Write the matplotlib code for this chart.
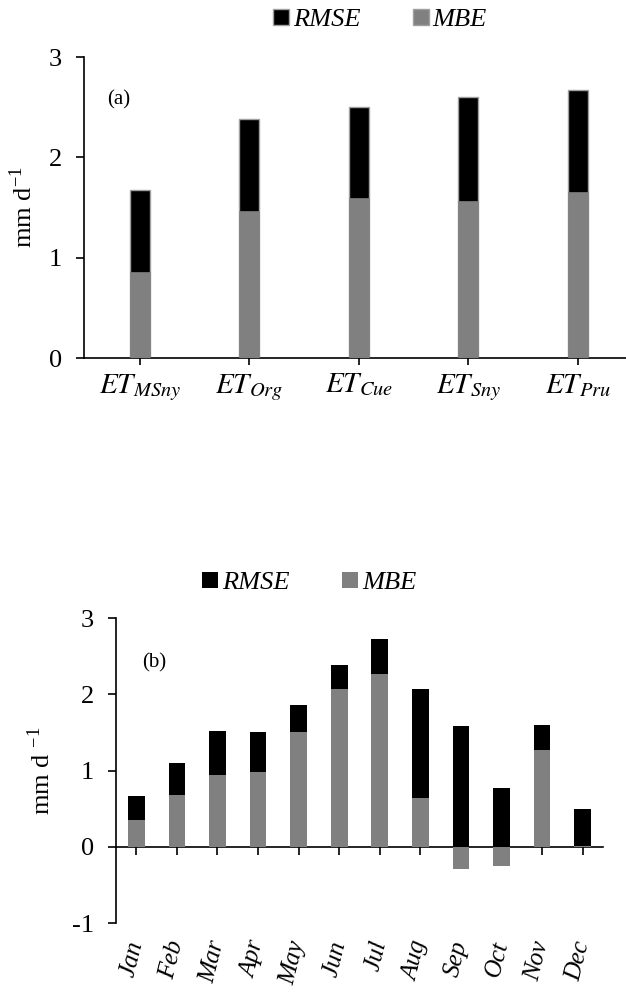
import matplotlib
matplotlib.use('Agg')
import matplotlib.pyplot as plt
from matplotlib.patches import Patch

# Panel (a): error statistics per ET method
methods = ['$ET_{MSny}$', '$ET_{Org}$', '$ET_{Cue}$', '$ET_{Sny}$', '$ET_{Pru}$']
rmse_a = [1.67, 2.38, 2.50, 2.60, 2.67]
mbe_a = [0.86, 1.47, 1.60, 1.57, 1.65]

# Panel (b): monthly error statistics
months = ['Jan', 'Feb', 'Mar', 'Apr', 'May', 'Jun',
          'Jul', 'Aug', 'Sep', 'Oct', 'Nov', 'Dec']
rmse_b = [0.66, 1.10, 1.52, 1.51, 1.86, 2.39, 2.73, 2.07, 1.58, 0.77, 1.60, 0.49]
mbe_b = [0.35, 0.68, 0.94, 0.98, 1.51, 2.07, 2.27, 0.64, -0.29, -0.25, 1.27, 0.01]

plt.rcParams['font.family'] = ['Liberation Serif', 'DejaVu Serif']
plt.rcParams['mathtext.fontset'] = 'stix'
plt.rcParams['axes.unicode_minus'] = False

BLACK = '#000000'
GREY = '#808080'
EDGE = '#a0a0a0'

fig = plt.figure(figsize=(6.26, 9.94), dpi=100)

# ---- panel (a)
ax1 = fig.add_axes([0.134, 0.6398, 0.866, 0.3028])
xa = range(len(methods))
ax1.bar(xa, rmse_a, width=0.18, color=BLACK, edgecolor=EDGE, linewidth=1.0, zorder=2)
ax1.bar(xa, mbe_a, width=0.18, color=GREY, edgecolor=GREY, linewidth=0.5, zorder=3)
ax1.set_xlim(-0.51, 4.44)
ax1.set_ylim(0, 3)
ax1.set_yticks([0, 1, 2, 3])
ax1.set_xticks(list(xa))
ax1.set_xticklabels(methods, fontsize=21)
ax1.tick_params(axis='y', labelsize=19, length=6, width=1.2, pad=10)
ax1.tick_params(axis='x', length=5, width=1.2, pad=5)
for s in ['top', 'right']:
    ax1.spines[s].set_visible(False)
ax1.spines['left'].set_linewidth(1.2)
ax1.spines['bottom'].set_linewidth(1.2)
ax1.set_ylabel('mm d$^{\\mathregular{-1}}$', fontsize=19, labelpad=8)
ax1.text(0.042, 0.857, '(a)', transform=ax1.transAxes, fontsize=15, va='center')

fig.legend(handles=[Patch(facecolor=BLACK, edgecolor=EDGE, label='RMSE'),
                    Patch(facecolor=GREY, edgecolor=EDGE, label='MBE')],
           loc='center', bbox_to_anchor=(0.607, 0.980), ncol=2, frameon=False,
           prop={'style': 'italic', 'size': 19}, handlelength=0.6, handleheight=0.6,
           handletextpad=0.15, columnspacing=2.0)

# ---- panel (b)
ax2 = fig.add_axes([0.1853, 0.0714, 0.778, 0.3068])
xb = range(len(months))
ax2.bar(xb, rmse_b, width=0.41, color=BLACK, zorder=2)
ax2.bar(xb, mbe_b, width=0.41, color=GREY, zorder=3)
ax2.set_xlim(-0.5, 11.5)
ax2.set_ylim(-1, 3)
ax2.set_yticks([-1, 0, 1, 2, 3])
ax2.set_xticks(list(xb))
ax2.tick_params(axis='x', labelbottom=False, length=6, width=1.2)
ax2.tick_params(axis='y', labelsize=19, length=6, width=1.2, pad=10)
for s in ['top', 'right']:
    ax2.spines[s].set_visible(False)
ax2.spines['bottom'].set_position(('data', 0))
ax2.spines['left'].set_linewidth(1.2)
ax2.spines['bottom'].set_linewidth(1.2)
ax2.set_ylabel('mm d $^{\\mathregular{-1}}$', fontsize=19, labelpad=12)
ax2.text(0.053, 0.852, '(b)', transform=ax2.transAxes, fontsize=15, va='center')

sec = ax2.secondary_xaxis('bottom')
sec.set_xticks(list(xb))
sec.set_xticklabels(months, rotation=76, fontsize=18, style='italic',
                    ha='right', va='center', rotation_mode='anchor')
sec.tick_params(length=0, pad=13)
sec.spines['bottom'].set_visible(False)

fig.legend(handles=[Patch(facecolor=BLACK, label='RMSE'),
                    Patch(facecolor=GREY, label='MBE')],
           loc='center', bbox_to_anchor=(0.494, 0.4135), ncol=2, frameon=False,
           prop={'style': 'italic', 'size': 19}, handlelength=0.6, handleheight=0.6,
           handletextpad=0.15, columnspacing=2.0)

fig.savefig('out.png', dpi=100)
